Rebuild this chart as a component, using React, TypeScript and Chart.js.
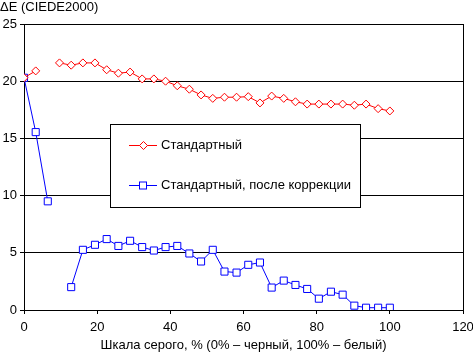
import React, { useEffect, useRef } from "react";
import { Chart, registerables } from "chart.js";

Chart.register(...registerables);

const grayLevels = [0, 3.2, 6.5, 9.7, 12.9, 16.1, 19.4, 22.6, 25.8, 29.0, 32.3, 35.5, 38.7, 41.9, 45.2, 48.4, 51.6, 54.8, 58.1, 61.3, 64.5, 67.7, 71.0, 74.2, 77.4, 80.6, 83.9, 87.1, 90.3, 93.5, 96.8, 100];
const standard = [20.3, 20.9, null, 21.6, 21.4, 21.6, 21.6, 21.0, 20.7, 20.8, 20.2, 20.2, 20.0, 19.6, 19.3, 18.8, 18.5, 18.6, 18.6, 18.65, 18.1, 18.7, 18.5, 18.2, 18.0, 18.0, 18.0, 18.0, 17.9, 18.0, 17.6, 17.4];
const corrected = [20.3, 15.55, 9.5, null, 2.0, 5.26, 5.7, 6.2, 5.6, 6.05, 5.5, 5.2, 5.5, 5.6, 4.94, 4.24, 5.26, 3.36, 3.27, 3.95, 4.15, 1.96, 2.57, 2.19, 1.84, 0.99, 1.6, 1.34, 0.38, 0.2, 0.2, 0.2];
const seriesNames = ["Стандартный", "Стандартный, после коррекции"];
const yTitle = "ΔE (CIEDE2000)";
const xTitle = "Шкала серого, % (0% – черный, 100% – белый)";

const FONT = "'Liberation Sans', Arial, sans-serif";

const toPoints = (vals: (number | null)[]) =>
  grayLevels.map((x, i) => ({ x, y: vals[i] }));

function drawDiamond(ctx: CanvasRenderingContext2D, x: number, y: number, r: number) {
  ctx.beginPath();
  ctx.moveTo(x, y - r);
  ctx.lineTo(x + r, y);
  ctx.lineTo(x, y + r);
  ctx.lineTo(x - r, y);
  ctx.closePath();
  ctx.fill();
  ctx.stroke();
}

const overlayPlugin = {
  id: "overlay",
  afterDraw(chart: any) {
    const ctx = chart.ctx as CanvasRenderingContext2D;
    ctx.save();
    ctx.fillStyle = "#000";
    ctx.font = `13px ${FONT}`;
    ctx.textAlign = "left";
    ctx.textBaseline = "middle";
    ctx.fillText(yTitle, 0, 7);
    const bx = 110.5, by = 124.5, bw = 250, bh = 83;
    ctx.fillStyle = "#fff";
    ctx.fillRect(bx, by, bw, bh);
    ctx.strokeStyle = "#000";
    ctx.lineWidth = 1;
    ctx.strokeRect(bx, by, bw, bh);
    const rows = [
      { y: 145.5, color: "#ff0000", kind: "diamond" },
      { y: 185.5, color: "#0000ff", kind: "square" },
    ];
    rows.forEach((row, i) => {
      ctx.strokeStyle = row.color;
      ctx.lineWidth = 1;
      ctx.beginPath();
      ctx.moveTo(129, row.y);
      ctx.lineTo(157, row.y);
      ctx.stroke();
      ctx.fillStyle = "#fff";
      if (row.kind === "diamond") {
        drawDiamond(ctx, 143.5, row.y, 4);
      } else {
        ctx.fillRect(139.5, row.y - 3.5, 7, 7);
        ctx.strokeRect(139.5, row.y - 3.5, 7, 7);
      }
      ctx.fillStyle = "#000";
      ctx.font = `13px ${FONT}`;
      ctx.textAlign = "left";
      ctx.textBaseline = "middle";
      ctx.fillText(seriesNames[i], 161, row.y);
    });
    ctx.restore();
  },
};

export default function App() {
  const ref = useRef<HTMLCanvasElement>(null);
  useEffect(() => {
    if (!ref.current) return;
    const chart = new Chart(ref.current, {
      type: "line",
      data: {
        datasets: [
          {
            label: seriesNames[0],
            data: toPoints(standard),
            borderColor: "#ff0000",
            borderWidth: 1,
            backgroundColor: "#ffffff",
            pointStyle: "rectRot",
            pointRadius: 4,
            pointBorderWidth: 1,
            pointBorderColor: "#ff0000",
            pointBackgroundColor: "#ffffff",
            spanGaps: false,
            tension: 0,
          },
          {
            label: seriesNames[1],
            data: toPoints(corrected),
            borderColor: "#0000ff",
            borderWidth: 1,
            backgroundColor: "#ffffff",
            pointStyle: "rect",
            pointRadius: 5,
            pointBorderWidth: 1,
            pointBorderColor: "#0000ff",
            pointBackgroundColor: "#ffffff",
            spanGaps: false,
            tension: 0,
          },
        ],
      },
      options: {
        responsive: false,
        animation: false,
        layout: { padding: { top: 24, left: 0, right: 10, bottom: 0 } },
        plugins: { legend: { display: false }, tooltip: { enabled: false }, title: { display: false } },
        scales: {
          x: {
            type: "linear",
            min: 0,
            max: 120,
            ticks: { stepSize: 20, color: "#000", font: { family: FONT, size: 13 }, padding: 6, maxRotation: 0 },
            grid: {
              color: (c: any) => (c.tick && c.tick.value === 120 ? "#000" : "rgba(0,0,0,0)"),
              tickColor: "#000",
              tickLength: 4,
              lineWidth: 1,
            },
            border: { display: true, color: "#000", width: 1 },
            title: { display: true, text: xTitle, color: "#000", font: { family: FONT, size: 13 }, padding: 0 },
            afterFit: (s: any) => {
              s.height = 43;
              s.paddingLeft = 0;
              s.paddingRight = 0;
            },
          },
          y: {
            min: 0,
            max: 25,
            ticks: { stepSize: 5, color: "#000", font: { family: FONT, size: 13 }, padding: 3 },
            grid: { color: "#000", tickColor: "#000", tickLength: 4, lineWidth: 1 },
            border: { display: true, color: "#000", width: 1 },
            afterFit: (s: any) => {
              s.width = 24;
              s.paddingTop = 0;
              s.paddingBottom = 0;
            },
          },
        },
      },
      plugins: [overlayPlugin],
    });
    return () => chart.destroy();
  }, []);
  return (
    <canvas
      ref={ref}
      width={473}
      height={353}
      style={{ position: "absolute", left: 0, top: 0, width: 473, height: 353 }}
    />
  );
}
